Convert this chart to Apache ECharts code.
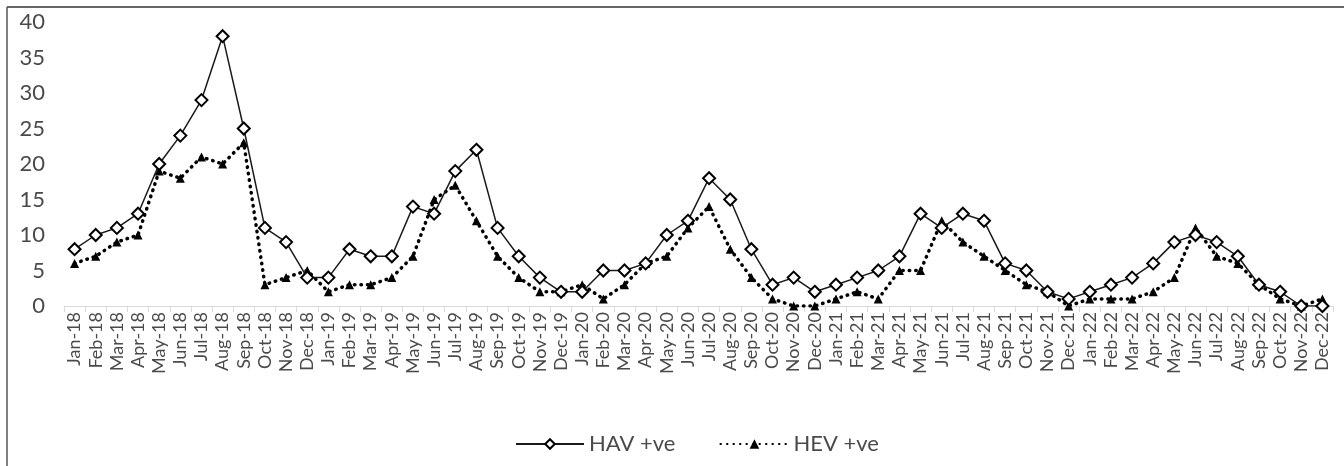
<!doctype html>
<html lang="en">
<head>
	<meta charset="UTF-8">
	<title>HAV / HEV positives by month</title>
	<script src="https://cdn.jsdelivr.net/npm/echarts@6/dist/echarts.min.js"></script>
	<style>
		html, body { margin: 0; padding: 0; background: #fff; }
		#main { width: 1344px; height: 466px; }
	</style>
</head>
<body>
<div id="main"></div>
<script type="text/javascript">
	// months Jan-18 .. Dec-22
	var months = [
		'Jan-18','Feb-18','Mar-18','Apr-18','May-18','Jun-18','Jul-18','Aug-18','Sep-18','Oct-18','Nov-18','Dec-18',
		'Jan-19','Feb-19','Mar-19','Apr-19','May-19','Jun-19','Jul-19','Aug-19','Sep-19','Oct-19','Nov-19','Dec-19',
		'Jan-20','Feb-20','Mar-20','Apr-20','May-20','Jun-20','Jul-20','Aug-20','Sep-20','Oct-20','Nov-20','Dec-20',
		'Jan-21','Feb-21','Mar-21','Apr-21','May-21','Jun-21','Jul-21','Aug-21','Sep-21','Oct-21','Nov-21','Dec-21',
		'Jan-22','Feb-22','Mar-22','Apr-22','May-22','Jun-22','Jul-22','Aug-22','Sep-22','Oct-22','Nov-22','Dec-22'
	];
	var hav = [
		8, 10, 11, 13, 20, 24, 29, 38, 25, 11, 9, 4,
		4, 8, 7, 7, 14, 13, 19, 22, 11, 7, 4, 2,
		2, 5, 5, 6, 10, 12, 18, 15, 8, 3, 4, 2,
		3, 4, 5, 7, 13, 11, 13, 12, 6, 5, 2, 1,
		2, 3, 4, 6, 9, 10, 9, 7, 3, 2, 0, 0
	];
	var hev = [
		6, 7, 9, 10, 19, 18, 21, 20, 23, 3, 4, 5,
		2, 3, 3, 4, 7, 15, 17, 12, 7, 4, 2, 2,
		3, 1, 3, 6, 7, 11, 14, 8, 4, 1, 0, 0,
		1, 2, 1, 5, 5, 12, 9, 7, 5, 3, 2, 0,
		1, 1, 1, 2, 4, 11, 7, 6, 3, 1, 0, 1
	];
	var yTicks = { min: 0, max: 40, step: 5 };

	var txt = '#4a4a4a';
	var font = 'Lato, "Liberation Sans", sans-serif';

	var myChart = echarts.init(document.getElementById('main'));
	var option = {
		animation: false,
		backgroundColor: '#fff',
		textStyle: { fontFamily: font },
		grid: { left: 64, right: 11, top: 22, bottom: 160, containLabel: false },
		legend: {
			bottom: 6,
			left: 510,
			itemWidth: 68,
			itemHeight: 12,
			itemGap: 44,
			textStyle: { color: txt, fontSize: 22, fontFamily: font },
			data: ['HAV +ve', 'HEV +ve']
		},
		xAxis: {
			type: 'category',
			data: months,
			boundaryGap: true,
			axisLine: { lineStyle: { color: '#d9d9d9', width: 1 } },
			axisTick: { show: true, alignWithLabel: false, length: 6, lineStyle: { color: '#d9d9d9' } },
			axisLabel: { interval: 0, rotate: 90, color: txt, fontSize: 18, fontFamily: font, margin: 6 }
		},
		yAxis: {
			type: 'value',
			min: yTicks.min,
			max: yTicks.max,
			interval: yTicks.step,
			axisLine: { show: false },
			axisTick: { show: false },
			splitLine: { show: false },
			axisLabel: { color: txt, fontSize: 22, fontFamily: font, margin: 19 }
		},
		series: [
			{
				name: 'HAV +ve',
				type: 'line',
				data: hav,
				symbol: 'diamond',
				symbolSize: 12,
				z: 3,
				itemStyle: { color: '#fff', borderColor: '#000', borderWidth: 2 },
				lineStyle: { color: '#1a1a1a', width: 1.5 }
			},
			{
				name: 'HEV +ve',
				type: 'line',
				data: hev,
				symbol: 'triangle',
				symbolSize: 9,
				z: 2,
				itemStyle: { color: '#000', borderColor: '#000', borderWidth: 0 },
				lineStyle: { color: '#000', width: 3.5, type: [0.5, 6], cap: 'round' }
			}
		],
		graphic: [
			{ type: 'line', shape: { x1: 7, y1: 7, x2: 1344, y2: 7 }, style: { stroke: '#333', lineWidth: 1.5 } },
			{ type: 'line', shape: { x1: 7, y1: 7, x2: 7, y2: 466 }, style: { stroke: '#555', lineWidth: 1.5 } }
		]
	};
	myChart.setOption(option);
</script>
</body>
</html>
